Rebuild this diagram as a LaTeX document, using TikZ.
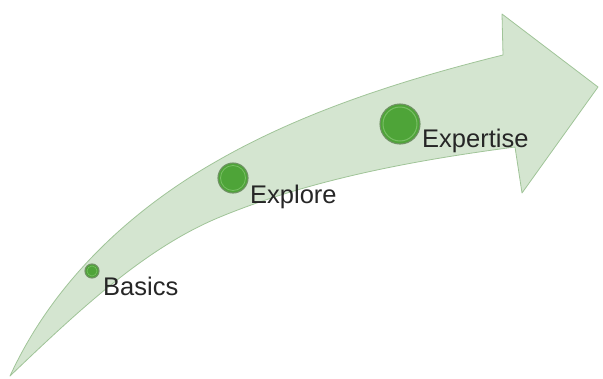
\documentclass[tikz,border=0pt]{standalone}
\usepackage{fontspec}
\setmainfont{Liberation Sans}
\definecolor{bandfill}{RGB}{212,229,208}
\definecolor{bandline}{RGB}{160,196,152}
\definecolor{dotfill}{RGB}{78,164,56}
\definecolor{dotline}{RGB}{112,146,100}
\definecolor{dotring}{RGB}{120,190,100}
\begin{document}
\begin{tikzpicture}[x=1pt,y=-1pt,
  band/.style={fill=bandfill,draw=bandline,line width=0.8pt,line join=round},
  dot/.style={circle,fill=dotfill,draw=dotline,line width=1.1pt,inner sep=0pt},
  lbl/.style={anchor=base west,inner sep=0pt,font=\fontsize{25.5}{28}\selectfont,text=black!85}]
\useasboundingbox (0,0) rectangle (603,378);
\filldraw[band] (10,376) .. controls (58,272) and (143,203) .. (217,161)
  .. controls (304,111) and (406,79) .. (503,55)
  -- (502,14) -- (598,87) -- (522,193) -- (515,147)
  .. controls (416,160) and (312,179) .. (220,217)
  .. controls (146,247.5) and (80,309) .. (10,376) -- cycle;
\node[dot,minimum size=14pt] (d1) at (92,271) {};
\node[dot,minimum size=30pt] (d2) at (233,178) {};
\node[dot,minimum size=40pt] (d3) at (400,124) {};
\draw[dotring,line width=0.6pt] (d1.center) circle (5);
\draw[dotring,line width=0.8pt] (d2.center) circle (12.5);
\draw[dotring,line width=1pt] (d3.center) circle (17);
\node[lbl] (t1) at (103,295) {Basics};
\node[lbl] (t2) at (250,203) {Explore};
\node[lbl] (t3) at (422,147) {Expertise};
\end{tikzpicture}
\end{document}
